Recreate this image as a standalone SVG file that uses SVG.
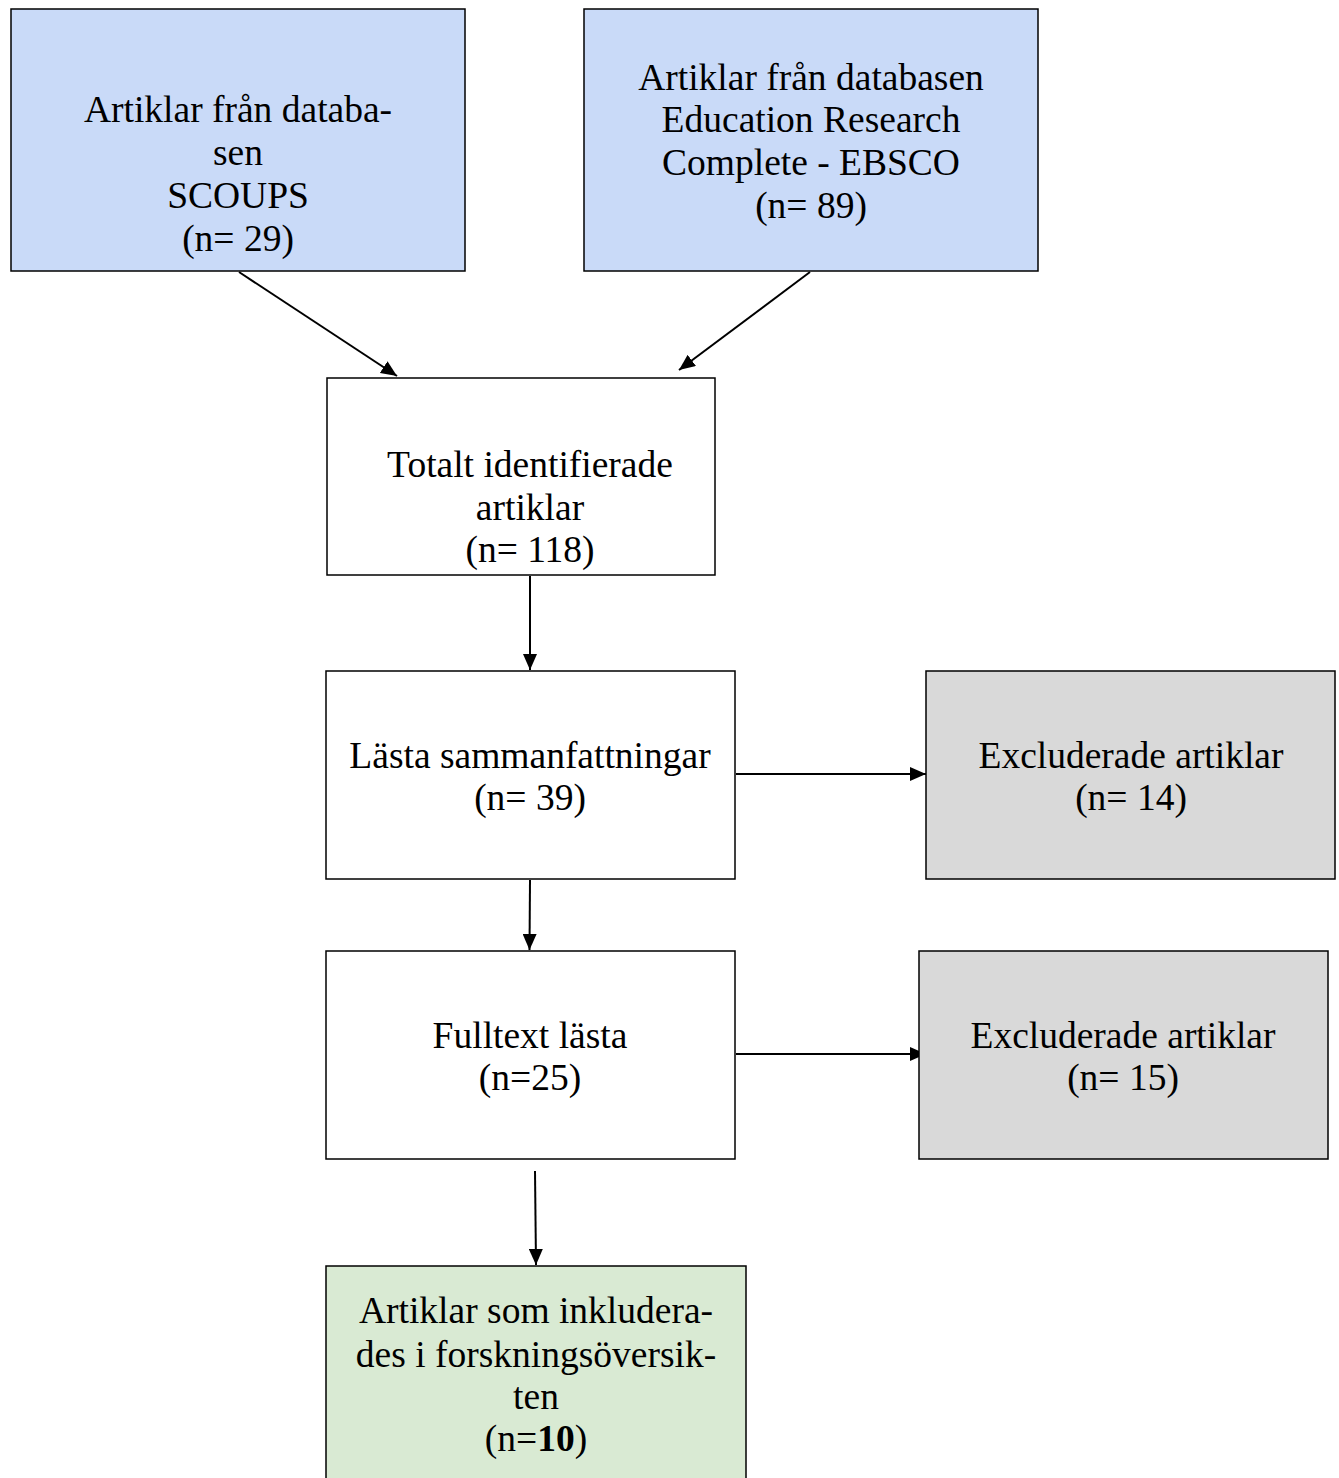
<svg xmlns="http://www.w3.org/2000/svg" width="1339" height="1478" viewBox="0 0 1339 1478">
<defs>
<style>
.box{stroke:#000;stroke-width:1.5}
.blue{fill:#c9daf8}
.white{fill:#fff}
.gray{fill:#d9d9d9}
.green{fill:#d9ead3}
text{font-family:"Liberation Serif","Times New Roman",serif;font-size:37.5px;fill:#000;text-anchor:middle}
.conn{stroke:#000;stroke-width:2;fill:none;marker-end:url(#arr)}
</style>
<marker id="arr" markerUnits="userSpaceOnUse" markerWidth="16" markerHeight="14" refX="16" refY="7" orient="auto">
<path d="M0,0 L16,7 L0,14 Z" fill="#000"/>
</marker>
</defs>
<rect width="1339" height="1478" fill="#fff"/>
<g id="connectors">
<line class="conn" x1="239" y1="272" x2="397" y2="376"/>
<line class="conn" x1="810" y1="272" x2="679" y2="370"/>
<line class="conn" x1="530" y1="576" x2="530" y2="670"/>
<line class="conn" x1="530" y1="880" x2="529.5" y2="950"/>
<line class="conn" x1="736" y1="774" x2="926" y2="774"/>
<line class="conn" x1="736" y1="1054" x2="926" y2="1054"/>
<line class="conn" x1="535" y1="1171" x2="536" y2="1265"/>
</g>
<g id="scoups">
<rect class="box blue" x="11" y="9" width="454" height="262"/>
<text x="238" y="122">Artiklar från databa-</text>
<text x="238" y="165">sen</text>
<text x="238" y="208">SCOUPS</text>
<text x="238" y="251">(n= 29)</text>
</g>
<g id="ebsco">
<rect class="box blue" x="584" y="9" width="454" height="262"/>
<text x="811" y="90">Artiklar från databasen</text>
<text x="811" y="132">Education Research</text>
<text x="811" y="175">Complete - EBSCO</text>
<text x="811" y="218">(n= 89)</text>
</g>
<g id="totalt">
<rect class="box white" x="327" y="378" width="388" height="197"/>
<text x="530" y="477">Totalt identifierade</text>
<text x="530" y="520">artiklar</text>
<text x="530" y="562">(n= 118)</text>
</g>
<g id="lasta">
<rect class="box white" x="326" y="671" width="409" height="208"/>
<text x="530" y="768">Lästa sammanfattningar</text>
<text x="530" y="810">(n= 39)</text>
</g>
<g id="excl1">
<rect class="box gray" x="926" y="671" width="409" height="208"/>
<text x="1131" y="768">Excluderade artiklar</text>
<text x="1131" y="810">(n= 14)</text>
</g>
<g id="fulltext">
<rect class="box white" x="326" y="951" width="409" height="208"/>
<text x="530" y="1048">Fulltext lästa</text>
<text x="530" y="1090">(n=25)</text>
</g>
<g id="excl2">
<rect class="box gray" x="919" y="951" width="409" height="208"/>
<text x="1123" y="1048">Excluderade artiklar</text>
<text x="1123" y="1090">(n= 15)</text>
</g>
<g id="included">
<rect class="box green" x="326" y="1266" width="420" height="230"/>
<text x="536" y="1323">Artiklar som inkludera-</text>
<text x="536" y="1367">des i forskningsöversik-</text>
<text x="536" y="1409">ten</text>
<text x="536" y="1451">(n=<tspan font-weight="bold">10</tspan>)</text>
</g>
</svg>
